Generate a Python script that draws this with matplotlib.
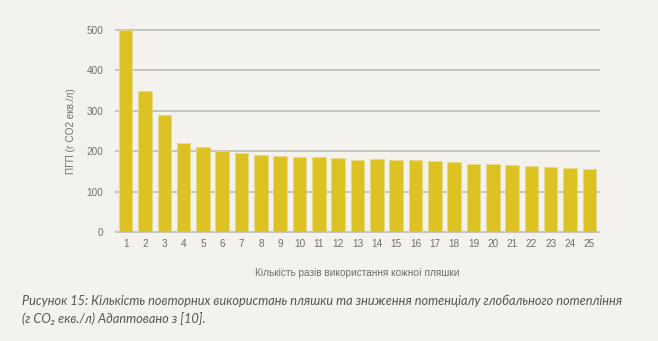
import numpy as np
import matplotlib
matplotlib.use('Agg')
import matplotlib.pyplot as plt

# кількість використань / ПГП (г CO2 екв./л)
uses = list(range(1, 26))
gwp = [500, 350, 289, 220, 210, 200, 195, 190, 188, 186, 186, 184, 179,
       180, 178, 178, 175, 174, 169, 168, 165, 164, 160, 158, 155]
yticks = [0, 100, 200, 300, 400, 500]

BG = '#F3F2EC'
BAR = '#DCC323'
GRID = '#C3C1BB'
TXT = '#6E6E6E'

fig = plt.figure(figsize=(6.58, 3.41), dpi=100, facecolor=BG)
ax = fig.add_axes([116 / 658, 1 - 232 / 341, (599 - 116) / 658, (232 - 30) / 341])
ax.set_facecolor(BG)

x = np.arange(len(uses))
ax.bar(x, gwp, width=0.7, color=BAR, edgecolor='#E3D98A', linewidth=0.6, zorder=3)

ax.set_xlim(-0.5, len(uses) - 0.5)
ax.set_ylim(0, 500)
ax.set_yticks(yticks)
ax.set_xticks(x)
ax.set_xticklabels([str(u) for u in uses])
for v in yticks:
    ax.axhline(v, color=GRID, lw=1.3, zorder=1, clip_on=False)
for s in ax.spines.values():
    s.set_visible(False)
ax.tick_params(axis='both', length=0, labelsize=7.2, colors=TXT)
ax.tick_params(axis='y', pad=9)
ax.tick_params(axis='x', pad=5)
for lab in ax.get_xticklabels() + ax.get_yticklabels():
    lab.set_family('Liberation Sans')

ax.set_ylabel('ПГП (г CO2 екв./л)', fontsize=7.2, color=TXT, family='Liberation Sans', labelpad=8)
ax.set_xlabel('Кількість разів використання кожної пляшки', fontsize=7.2, color=TXT,
              family='Liberation Sans', labelpad=14)

cap_font = ['Lato', 'DejaVu Sans']
fig.text(22 / 658, 1 - 301 / 341,
         'Рисунок 15: Кількість повторних використань пляшки та зниження потенціалу глобального потепління',
         fontsize=9.2, style='italic', color='#555555', family=cap_font, va='center')
fig.text(22 / 658, 1 - 319 / 341,
         '(г CO₂ екв./л) Адаптовано з [10].',
         fontsize=9.2, style='italic', color='#555555', family=cap_font, va='center')

fig.savefig('out.png', dpi=100, facecolor=BG)
